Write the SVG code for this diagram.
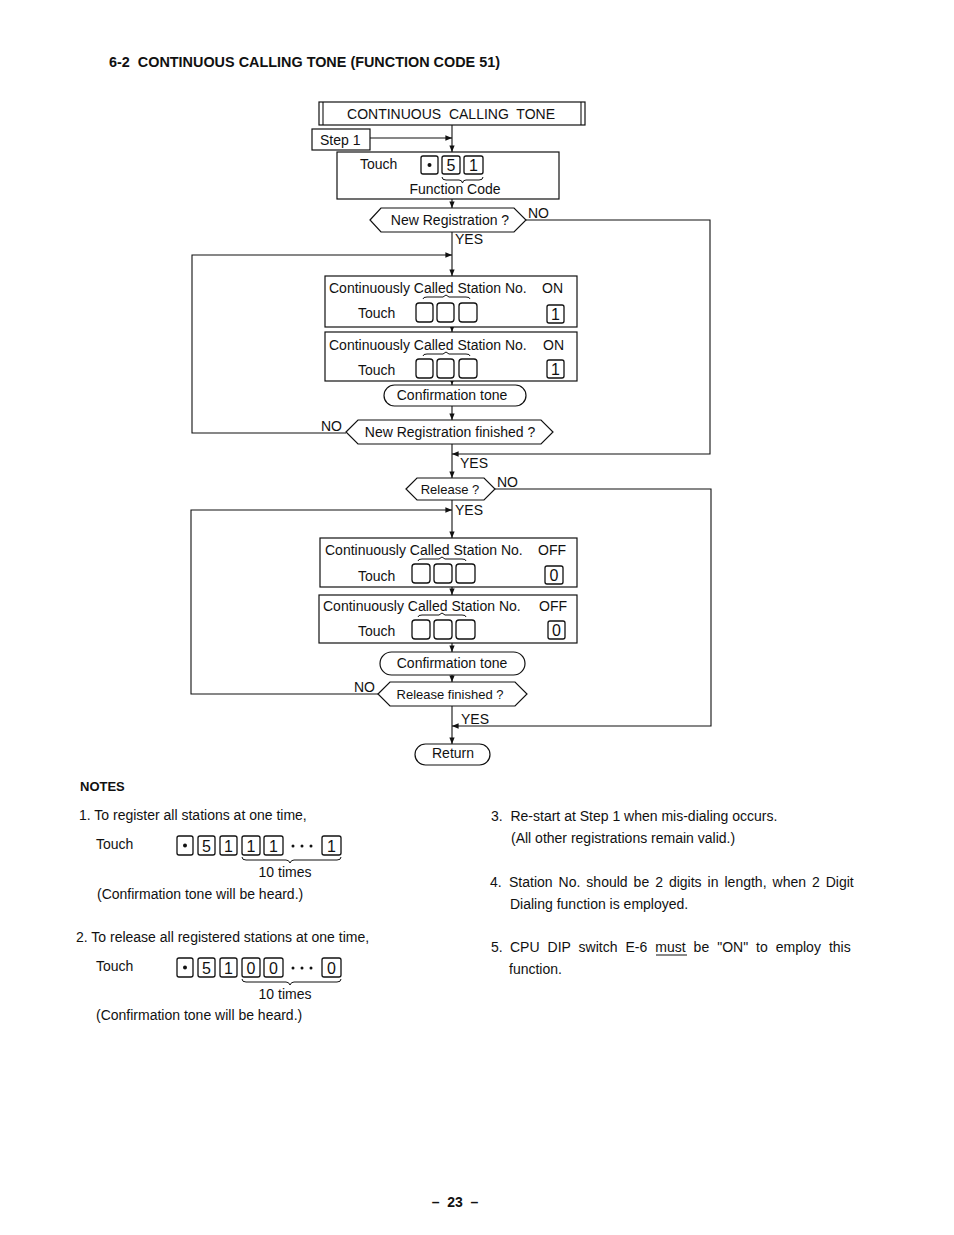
<svg xmlns="http://www.w3.org/2000/svg" width="954" height="1235" viewBox="0 0 954 1235">
<style>
text{font-family:"Liberation Sans",Arial,sans-serif;fill:#111;white-space:pre}
.t{font-size:14px}
.s{font-size:13px}
.b{font-weight:bold}
.box{fill:#fff;stroke:#111;stroke-width:1.2}
.key{fill:#fff;stroke:#111;stroke-width:1.3}
.ln{fill:none;stroke:#111;stroke-width:1.1}
.br{fill:none;stroke:#111;stroke-width:1}
.m{text-anchor:middle}
</style>
<defs>
<marker id="ah" viewBox="0 0 10 10" refX="10" refY="5" markerWidth="6" markerHeight="6" orient="auto"><path d="M0,1 L10,5 L0,9 z" fill="#111"/></marker>
</defs>
<rect width="954" height="1235" fill="#fff"/>
<text class="b" x="109" y="67" font-size="14" textLength="391" lengthAdjust="spacingAndGlyphs">6-2  CONTINUOUS CALLING TONE (FUNCTION CODE 51)</text>

<g id="connectors">
<path class="ln" d="M452,125 V152" marker-end="url(#ah)"/>
<path class="ln" d="M370,138 H452" marker-end="url(#ah)"/>
<path class="ln" d="M452,199 V208" marker-end="url(#ah)"/>
<path class="ln" d="M452,232 V276" marker-end="url(#ah)"/>
<path class="ln" d="M526,220 H710 V454 H452" marker-end="url(#ah)"/>
<path class="ln" d="M346,433 H192 V255 H452" marker-end="url(#ah)"/>
<path class="ln" d="M452,327 V332" marker-end="url(#ah)"/>
<path class="ln" d="M452,381 V385" marker-end="url(#ah)"/>
<path class="ln" d="M452,406 V420" marker-end="url(#ah)"/>
<path class="ln" d="M452,444 V478" marker-end="url(#ah)"/>
<path class="ln" d="M495,489 H711 V726 H452" marker-end="url(#ah)"/>
<path class="ln" d="M378,694 H191 V510 H452" marker-end="url(#ah)"/>
<path class="ln" d="M452,500 V538" marker-end="url(#ah)"/>
<path class="ln" d="M452,587 V595" marker-end="url(#ah)"/>
<path class="ln" d="M452,643 V652" marker-end="url(#ah)"/>
<path class="ln" d="M452,675 V682" marker-end="url(#ah)"/>
<path class="ln" d="M452,706 V744" marker-end="url(#ah)"/>
</g>

<g id="header">
<rect class="box" x="319" y="102" width="266" height="23"/>
<line class="ln" x1="323" y1="102" x2="323" y2="125"/>
<line class="ln" x1="581" y1="102" x2="581" y2="125"/>
<text class="t m" x="451" y="119">CONTINUOUS  CALLING  TONE</text>
</g>

<g id="step1">
<rect class="box" x="312" y="129" width="58" height="21"/>
<text class="t" x="320" y="145">Step 1</text>
</g>

<g id="touch-code">
<rect class="box" x="337" y="152" width="222" height="47"/>
<text class="t" x="360" y="169">Touch</text>
<rect class="key" x="421" y="156" width="17" height="18" rx="2"/>
<circle cx="429.5" cy="165" r="2" fill="#111"/>
<rect class="key" x="442" y="156" width="18" height="18" rx="2"/>
<text class="m" x="451" y="171" font-size="16">5</text>
<rect class="key" x="464" y="156" width="19" height="18" rx="2"/>
<text class="m" x="473.5" y="171" font-size="16">1</text>
<path class="br" d="M442,177 Q442,180 446,180 H459 Q462,180 462.5,183 Q463,180 466,180 H479 Q483,180 483,177"/>
<text class="t m" x="455" y="194">Function Code</text>
</g>

<g id="new-registration">
<path class="box" d="M370,220 L381,208 H514 L526,220 L514,232 H381 Z"/>
<text class="t m" x="450" y="225">New Registration ?</text>
<text class="t" x="528" y="218">NO</text>
<text class="t" x="455" y="244">YES</text>
</g>

<g id="on-1">
<rect class="box" x="325" y="276" width="252" height="51"/>
<text class="t" x="329" y="293">Continuously Called Station No.</text>
<text class="t" x="542" y="293">ON</text>
<text class="t" x="358" y="318">Touch</text>
<path class="br" d="M423,299 Q423,297 427,297 H443 L446,295 L449,297 H466 Q470,297 470,299"/>
<rect class="key" x="416" y="303" width="17" height="19" rx="3"/>
<rect class="key" x="437" y="303" width="17" height="19" rx="3"/>
<rect class="key" x="459" y="303" width="18" height="19" rx="3"/>
<rect class="key" x="547" y="305" width="17" height="18" rx="2"/>
<text class="m" x="555.5" y="320" font-size="16">1</text>
</g>

<g id="on-2">
<rect class="box" x="325" y="332" width="252" height="49"/>
<text class="t" x="329" y="350">Continuously Called Station No.</text>
<text class="t" x="543" y="350">ON</text>
<text class="t" x="358" y="375">Touch</text>
<path class="br" d="M423,356 Q423,354 427,354 H443 L446,352 L449,354 H466 Q470,354 470,356"/>
<rect class="key" x="416" y="359" width="17" height="19" rx="3"/>
<rect class="key" x="437" y="359" width="17" height="19" rx="3"/>
<rect class="key" x="459" y="359" width="18" height="19" rx="3"/>
<rect class="key" x="547" y="360" width="17" height="18" rx="2"/>
<text class="m" x="555.5" y="375" font-size="16">1</text>
</g>

<g id="confirm-1">
<rect class="box" x="384" y="385" width="142" height="21" rx="10.5"/>
<text class="t m" x="452" y="400">Confirmation tone</text>
</g>

<g id="new-registration-finished">
<path class="box" d="M346,432 L358,420 H541 L553,432 L541,444 H358 Z"/>
<text class="t m" x="450" y="437">New Registration finished ?</text>
<text class="t" x="321" y="431">NO</text>
<text class="t" x="460" y="468">YES</text>
</g>

<g id="release">
<path class="box" d="M406,489 L417,478 H484 L495,489 L484,500 H417 Z"/>
<text class="s m" x="450" y="494">Release ?</text>
<text class="t" x="497" y="487">NO</text>
<text class="t" x="455" y="515">YES</text>
</g>

<g id="off-1">
<rect class="box" x="320" y="538" width="257" height="49"/>
<text class="t" x="325" y="555">Continuously Called Station No.</text>
<text class="t" x="538" y="555">OFF</text>
<text class="t" x="358" y="581">Touch</text>
<path class="br" d="M418,561 Q418,559 422,559 H439 L442,557 L445,559 H462 Q466,559 466,561"/>
<rect class="key" x="412" y="564" width="18" height="19" rx="3"/>
<rect class="key" x="434" y="564" width="18" height="19" rx="3"/>
<rect class="key" x="456" y="564" width="19" height="19" rx="3"/>
<rect class="key" x="545" y="566" width="18" height="18" rx="2"/>
<text class="m" x="554" y="581" font-size="16">0</text>
</g>

<g id="off-2">
<rect class="box" x="319" y="595" width="258" height="48"/>
<text class="t" x="323" y="611">Continuously Called Station No.</text>
<text class="t" x="539" y="611">OFF</text>
<text class="t" x="358" y="636">Touch</text>
<path class="br" d="M418,617 Q418,615 422,615 H439 L442,613 L445,615 H462 Q466,615 466,617"/>
<rect class="key" x="412" y="620" width="18" height="19" rx="3"/>
<rect class="key" x="434" y="620" width="18" height="19" rx="3"/>
<rect class="key" x="456" y="620" width="19" height="19" rx="3"/>
<rect class="key" x="548" y="621" width="17" height="18" rx="2"/>
<text class="m" x="556.5" y="636" font-size="16">0</text>
</g>

<g id="confirm-2">
<rect class="box" x="380" y="652" width="145" height="23" rx="11.5"/>
<text class="t m" x="452" y="668">Confirmation tone</text>
</g>

<g id="release-finished">
<path class="box" d="M378,694 L390,682 H515 L527,694 L515,706 H390 Z"/>
<text class="s m" x="450" y="699">Release finished ?</text>
<text class="t" x="354" y="692">NO</text>
<text class="t" x="461" y="724">YES</text>
</g>

<g id="return">
<rect class="box" x="415" y="744" width="75" height="21" rx="10.5"/>
<text class="t m" x="453" y="758">Return</text>
</g>

<g id="notes">
<text class="b" x="80" y="791" font-size="13">NOTES</text>
<text class="t" x="79" y="820">1. To register all stations at one time,</text>
<text class="t" x="96" y="849">Touch</text>
<rect class="key" x="177" y="836" width="16" height="19" rx="2"/>
<circle cx="185" cy="845.5" r="2" fill="#111"/>
<rect class="key" x="198" y="836" width="17" height="19" rx="2"/>
<text class="m" x="206.5" y="852" font-size="16">5</text>
<rect class="key" x="220" y="836" width="17" height="19" rx="2"/>
<text class="m" x="228.5" y="852" font-size="16">1</text>
<rect class="key" x="242" y="836" width="18" height="19" rx="2"/>
<text class="m" x="251" y="852" font-size="16">1</text>
<rect class="key" x="264" y="836" width="19" height="19" rx="2"/>
<text class="m" x="273.5" y="852" font-size="16">1</text>
<circle cx="293" cy="846" r="1.5" fill="#111"/><circle cx="302" cy="846" r="1.5" fill="#111"/><circle cx="311" cy="846" r="1.5" fill="#111"/>
<rect class="key" x="322" y="836" width="19" height="19" rx="2"/>
<text class="m" x="331.5" y="852" font-size="16">1</text>
<path class="br" d="M242,857 Q242,860 246,860 H286 Q289,860 290,863 Q291,860 294,860 H337 Q341,860 341,857"/>
<text class="t m" x="285" y="877">10 times</text>
<text class="t" x="97" y="899">(Confirmation tone will be heard.)</text>

<text class="t" x="76" y="942">2. To release all registered stations at one time,</text>
<text class="t" x="96" y="971">Touch</text>
<rect class="key" x="177" y="958" width="16" height="19" rx="2"/>
<circle cx="185" cy="967.5" r="2" fill="#111"/>
<rect class="key" x="198" y="958" width="17" height="19" rx="2"/>
<text class="m" x="206.5" y="974" font-size="16">5</text>
<rect class="key" x="220" y="958" width="17" height="19" rx="2"/>
<text class="m" x="228.5" y="974" font-size="16">1</text>
<rect class="key" x="242" y="958" width="18" height="19" rx="2"/>
<text class="m" x="251" y="974" font-size="16">0</text>
<rect class="key" x="264" y="958" width="19" height="19" rx="2"/>
<text class="m" x="273.5" y="974" font-size="16">0</text>
<circle cx="293" cy="968" r="1.5" fill="#111"/><circle cx="302" cy="968" r="1.5" fill="#111"/><circle cx="311" cy="968" r="1.5" fill="#111"/>
<rect class="key" x="322" y="958" width="19" height="19" rx="2"/>
<text class="m" x="331.5" y="974" font-size="16">0</text>
<path class="br" d="M242,979 Q242,982 246,982 H286 Q289,982 290,985 Q291,982 294,982 H337 Q341,982 341,979"/>
<text class="t m" x="285" y="999">10 times</text>
<text class="t" x="96" y="1020">(Confirmation tone will be heard.)</text>

<text class="t" x="491" y="821">3.  Re-start at Step 1 when mis-dialing occurs.</text>
<text class="t" x="511" y="843">(All other registrations remain valid.)</text>
<text class="t" x="490" y="887">4.</text>
<text class="t" x="509" y="887" word-spacing="2.1">Station No. should be 2 digits in length, when 2 Digit</text>
<text class="t" x="510" y="909">Dialing function is employed.</text>
<text class="t" x="491" y="952">5.</text>
<text class="t" x="510" y="952" word-spacing="4.1">CPU DIP switch E-6 must be "ON" to employ this</text>
<line class="br" x1="656" y1="955" x2="687" y2="955"/>
<text class="t" x="509" y="974">function.</text>
</g>

<text class="b m" x="455" y="1207" font-size="14">–  23  –</text>
</svg>
